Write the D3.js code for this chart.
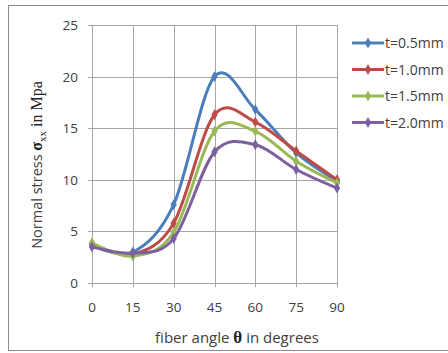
<!DOCTYPE html>
<html>
<head>
<meta charset="utf-8">
<script src="https://cdn.jsdelivr.net/npm/d3@7"></script>
<style>
  body { margin: 0; background: #fff; }
  text { font-family: "Open Sans", "Liberation Sans", sans-serif; }
</style>
</head>
<body>
<div id="chart"></div>
<script>
// data
var angles = [0, 15, 30, 45, 60, 75, 90];
var seriesNames = ["t=0.5mm", "t=1.0mm", "t=1.5mm", "t=2.0mm"];
var t05 = [3.7, 3.0, 7.6, 20.0, 16.8, 12.6, 9.9];
var t10 = [3.8, 2.8, 5.8, 16.3, 15.6, 12.8, 10.0];
var t15 = [3.9, 2.6, 4.9, 14.7, 14.7, 11.8, 9.7];
var t20 = [3.5, 2.9, 4.3, 12.7, 13.4, 11.0, 9.2];
var yTicks = [0, 5, 10, 15, 20, 25];
var colors = ["#4a7ebb", "#be4b48", "#98b954", "#7d60a0"];

var w = 448, h = 353;
var plotL = 92, plotR = 337, plotT = 25, plotB = 283;

var svg = d3.select("#chart").append("svg")
    .attr("width", w)
    .attr("height", h);

// outer frame
svg.append("rect")
    .attr("x", 8.5).attr("y", 5.5)
    .attr("width", 460).attr("height", 345)
    .attr("fill", "none")
    .attr("stroke", "#8c8c8c")
    .attr("stroke-width", 1);

var x = d3.scaleLinear().domain([0, 90]).range([plotL, plotR]);
var y = d3.scaleLinear().domain([0, 25]).range([plotB, plotT]);

// gridlines
svg.append("g").selectAll("line")
    .data(yTicks).enter().append("line")
    .attr("x1", plotL - 4).attr("x2", plotR)
    .attr("y1", function(d) { return Math.round(y(d)) + 0.5; })
    .attr("y2", function(d) { return Math.round(y(d)) + 0.5; })
    .attr("stroke", "#a6a6a6");

svg.append("g").selectAll("line")
    .data(angles).enter().append("line")
    .attr("x1", function(d) { return Math.round(x(d)) + 0.5; })
    .attr("x2", function(d) { return Math.round(x(d)) + 0.5; })
    .attr("y1", plotT).attr("y2", plotB + 4)
    .attr("stroke", "#a6a6a6");

// axis labels
svg.append("g").selectAll("text")
    .data(yTicks).enter().append("text")
    .attr("x", plotL - 14)
    .attr("y", function(d) { return y(d) + 5; })
    .attr("text-anchor", "end")
    .attr("font-size", 13.5)
    .attr("fill", "#404040")
    .text(function(d) { return d; });

svg.append("g").selectAll("text")
    .data(angles).enter().append("text")
    .attr("x", function(d) { return x(d); })
    .attr("y", plotB + 29)
    .attr("text-anchor", "middle")
    .attr("font-size", 13.5)
    .attr("fill", "#404040")
    .text(function(d) { return d; });

// axis titles
var xt = svg.append("text")
    .attr("x", 237).attr("y", 343)
    .attr("text-anchor", "middle")
    .attr("font-size", 15)
    .attr("fill", "#404040");
xt.append("tspan").text("fiber angle  ");
xt.append("tspan").attr("font-family", "Liberation Serif, serif").attr("font-weight", "bold").attr("fill", "#222").attr("font-size", 17).text("θ");
xt.append("tspan").text(" in degrees");

var yt = svg.append("text")
    .attr("transform", "translate(42,165) rotate(-90)")
    .attr("text-anchor", "middle")
    .attr("font-size", 14.5)
    .attr("fill", "#404040");
yt.append("tspan").text("Normal  stress ");
yt.append("tspan").attr("font-family", "Liberation Serif, serif").attr("font-weight", "bold").attr("fill", "#222").attr("font-size", 16).text("σ");
yt.append("tspan").attr("font-family", "Liberation Serif, serif").attr("font-size", 11).attr("dy", 4).attr("fill", "#222").text("xx");
yt.append("tspan").attr("font-family", "Liberation Serif, serif").attr("font-size", 16).attr("dy", -4).attr("fill", "#222").text("  in  Mpa");

// series
var allSeries = [t05, t10, t15, t20];
var line = d3.line()
    .x(function(d, i) { return x(angles[i]); })
    .y(function(d) { return y(d); })
    .curve(d3.curveCardinal.tension(0));

var diamond = d3.symbol().type(d3.symbolDiamond).size(34);

allSeries.forEach(function(vals, k) {
  svg.append("path")
      .attr("d", line(vals))
      .attr("fill", "none")
      .attr("stroke", colors[k])
      .attr("stroke-width", 3);
  svg.append("g").selectAll("path")
      .data(vals).enter().append("path")
      .attr("d", diamond)
      .attr("transform", function(d, i) { return "translate(" + x(angles[i]) + "," + y(d) + ")"; })
      .attr("fill", colors[k]);
});

// legend
var legend = svg.append("g").selectAll("g")
    .data(seriesNames).enter().append("g")
    .attr("transform", function(d, i) { return "translate(352," + (43 + i * 26.5) + ")"; });
legend.append("line")
    .attr("x1", 0).attr("x2", 32)
    .attr("stroke", function(d, i) { return colors[i]; })
    .attr("stroke-width", 3);
legend.append("path")
    .attr("d", diamond)
    .attr("transform", "translate(16,0)")
    .attr("fill", function(d, i) { return colors[i]; });
legend.append("text")
    .attr("x", 33).attr("y", 5)
    .attr("font-size", 14)
    .attr("fill", "#404040")
    .text(function(d) { return d; });
</script>
</body>
</html>
